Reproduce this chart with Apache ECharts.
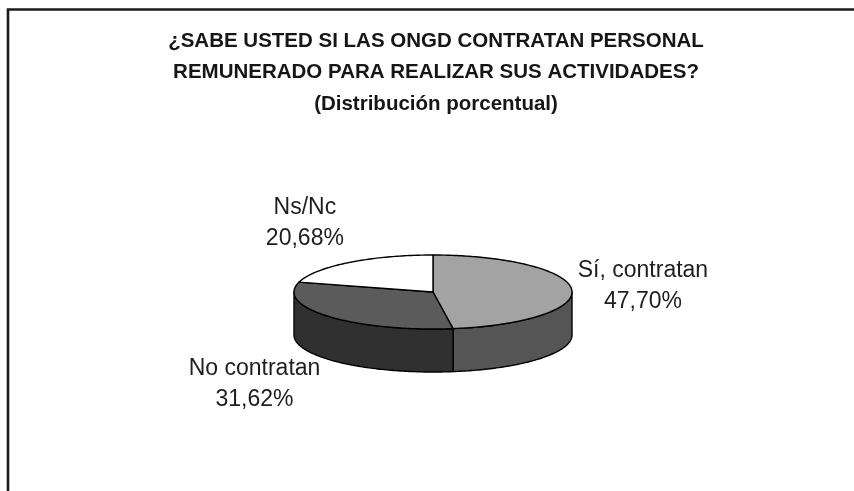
<!DOCTYPE html>
<html>
<head>
<meta charset="utf-8">
<script src="https://cdn.jsdelivr.net/npm/echarts@6/dist/echarts.min.js"></script>
<style>
html,body{margin:0;padding:0;background:#fff;}
#chart{width:854px;height:491px;}
</style>
</head>
<body>
<div id="chart"></div>
<script>
// ---- data ----
const categories = ['Sí, contratan', 'No contratan', 'Ns/Nc'];
const values = [47.70, 31.62, 20.68];
const titleLines = [
  '¿SABE USTED SI LAS ONGD CONTRATAN PERSONAL',
  'REMUNERADO PARA REALIZAR SUS ACTIVIDADES?',
  '(Distribución porcentual)'
];

// ---- style ----
const topColors = ['#a3a3a3', '#5b5b5b', '#ffffff'];
const sideColors = ['#555555', '#303030', '#d0d0d0'];
const labelNudge = [[2, -1], [-22, 0], [-2, -10]];
const PIE = { cx: 433, cy: 292, rx: 139, ry: 37, depth: 43 };
const FONT = '"Liberation Sans", Arial, sans-serif';

const total = values.reduce((a, b) => a + b, 0);

function pt(deg, dy) {
  const r = deg * Math.PI / 180;
  return [PIE.cx + PIE.rx * Math.cos(r), PIE.cy - PIE.ry * Math.sin(r) + (dy || 0)];
}

function renderItem(params, api) {
  const idx = params.dataIndex;
  const v = api.value(0);
  let before = 0;
  for (let i = 0; i < idx; i++) before += values[i];
  // clockwise from 12 o'clock
  const a0 = 90 - before / total * 360;
  const a1 = a0 - v / total * 360;
  const children = [];

  // top sector
  const topPts = [[PIE.cx, PIE.cy]];
  const steps = Math.max(8, Math.ceil(Math.abs(a0 - a1)));
  for (let s = 0; s <= steps; s++) {
    topPts.push(pt(a0 + (a1 - a0) * s / steps));
  }
  // side wall: front portion (angles in [-180, 0] modulo 360)
  // normalise to range where front = (180..360) in positive degrees
  let hi = ((a0 % 360) + 360) % 360; // start (larger angle going clockwise)
  let lo = hi - (a0 - a1);
  // front half angles: from -180 to 0 (i.e. 180..360 shifted)
  const segs = [];
  [[-180, 0], [180, 360], [-540, -360]].forEach(function (rng) {
    const s0 = Math.max(lo, rng[0]);
    const s1 = Math.min(hi, rng[1]);
    if (s1 > s0) segs.push([s0, s1]);
  });
  segs.forEach(function (sg) {
    const pts = [];
    const n = Math.max(4, Math.ceil(sg[1] - sg[0]));
    for (let s = 0; s <= n; s++) pts.push(pt(sg[0] + (sg[1] - sg[0]) * s / n));
    for (let s = n; s >= 0; s--) pts.push(pt(sg[0] + (sg[1] - sg[0]) * s / n, PIE.depth));
    children.push({
      type: 'polygon',
      z2: 1,
      shape: { points: pts },
      style: { fill: sideColors[idx], stroke: '#000', lineWidth: 1.4, lineJoin: 'round' }
    });
  });

  children.push({
    type: 'polygon',
    z2: 5,
    shape: { points: topPts },
    style: { fill: topColors[idx], stroke: '#000', lineWidth: 1.4, lineJoin: 'round' }
  });

  // label
  const mid = (a0 + a1) / 2;
  const mr = mid * Math.PI / 180;
  const sinm = Math.sin(mr), cosm = Math.cos(mr);
  let lx = PIE.cx + PIE.rx * 1.5 * cosm;
  let ly = PIE.cy - PIE.ry * 2.0 * sinm + (sinm < -0.2 ? PIE.depth : 0);
  lx += labelNudge[idx][0];
  ly += labelNudge[idx][1];
  const pct = v.toFixed(2).replace('.', ',') + '%';
  children.push({
    type: 'text',
    z2: 10,
    x: lx,
    y: ly,
    style: {
      text: categories[idx] + '\n' + pct,
      font: '23px ' + FONT,
      fill: '#1e1e1e',
      align: 'center',
      verticalAlign: 'middle',
      lineHeight: 31
    }
  });

  return { type: 'group', children: children };
}

const chart = echarts.init(document.getElementById('chart'), null, { renderer: 'canvas' });
const titleY = [41, 72.5, 104];
chart.setOption({
  backgroundColor: '#ffffff',
  animation: false,
  graphic: [
    {
      type: 'polyline',
      shape: { points: [[8, 491], [8, 9.5], [854, 9.5]] },
      style: { stroke: '#1c1c1c', lineWidth: 2.6, fill: null }
    }
  ].concat(titleLines.map(function (t, i) {
    return {
      type: 'text',
      x: 436,
      y: titleY[i],
      style: {
        text: t,
        font: 'bold 20.5px ' + FONT,
        fill: '#161616',
        align: 'center',
        verticalAlign: 'middle'
      }
    };
  })),
  series: [{
    type: 'custom',
    coordinateSystem: 'none',
    renderItem: renderItem,
    data: values.map(function (v, i) { return [v, i]; })
  }]
});
</script>
</body>
</html>
